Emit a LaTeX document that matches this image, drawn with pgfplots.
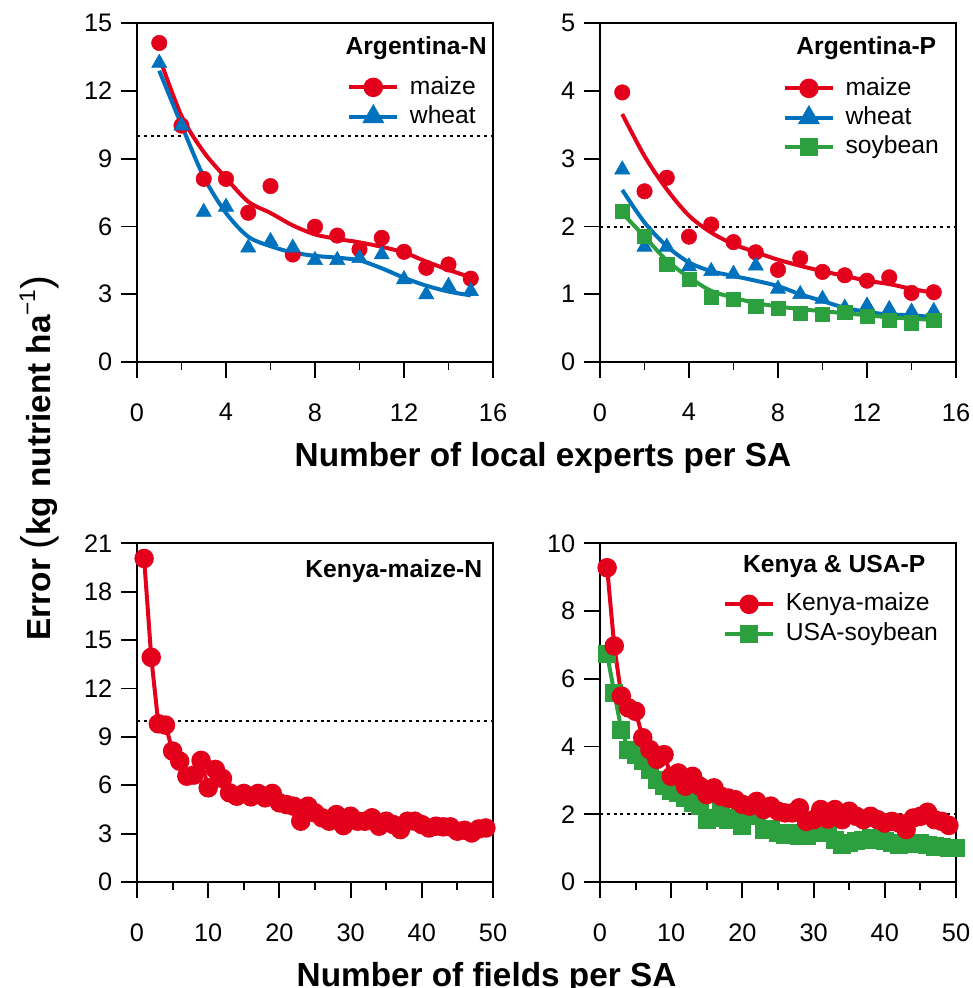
\documentclass[border=0pt]{standalone}
\usepackage{fontspec}
\setmainfont{Liberation Sans}
\usepackage{pgfplots}
\pgfplotsset{compat=1.18}

\definecolor{cred}{RGB}{227,0,27}
\definecolor{cblue}{RGB}{0,114,189}
\definecolor{cgreen}{RGB}{44,160,62}

\tikzset{ttl/.style={font=\bfseries\fontsize{18.5}{20}\selectfont}}
\pgfplotsset{
  panel/.style={
    scale only axis, width=267pt, height=254pt, anchor=south west,
    axis line style={line width=1.4pt},
    tick style={line width=1.4pt, black},
    tick align=outside, major tick length=12pt, minor tick length=6pt,
    xtick pos=left, ytick pos=left,
    ticklabel style={font=\fontsize{19}{20}\selectfont},
    xticklabel style={yshift=-15.5pt},
    yticklabel style={xshift=-3pt},
    /pgf/number format/assume math mode=true,
    legend style={draw=none, fill=none, inner sep=0pt, anchor=north west,
      font=\fontsize{18.5}{20}\selectfont,
      nodes={text height=14pt, text depth=4pt, inner ysep=2pt, inner xsep=8pt}},
    legend cell align=left,
    legend image code/.code={\draw[mark repeat=2,mark phase=2]
      plot coordinates {(0pt,0pt)(18pt,0pt)(36pt,0pt)};},
  },
  fit/.style={line width=3pt, no marks, forget plot},
  pts/.style={only marks, forget plot},
  ref/.style={black, line width=1.5pt, dash pattern=on 2.3pt off 2.8pt, no marks, forget plot},
  mz/.style={cred, mark=*, mark size=5.8pt, mark options={solid, fill=cred}},
  wh/.style={cblue, mark=triangle*, mark size=6.6pt, mark options={solid, fill=cblue}},
  sb/.style={cgreen, mark=square*, mark size=5.3pt, mark options={solid, fill=cgreen}},
}

\begin{document}
\begin{tikzpicture}
\useasboundingbox (0,0) rectangle (729.75pt,741pt);

% ---- Argentina-N
\begin{axis}[panel, at={(102.75pt,469.5pt)},
  xmin=0, xmax=16, ymin=0, ymax=15,
  xtick={0,4,8,12,16}, minor xtick={2,6,10,14}, ytick={0,3,...,15},
  legend style={at={(rel axis cs:0.59,0.855)}}]
  \addplot[ref] coordinates {(0,10) (16,10)};
  \addplot[mz, fit, smooth] coordinates {
    (1,13.5) (2,10.9) (3,9.3) (4,8.15) (5,7.1) (6,6.6) (7,6.05) (8,5.65)
    (9,5.45) (10,5.3) (11,5.1) (12,4.85) (13,4.45) (14,4.08) (15,3.75)};
  \addplot[mz, pts] coordinates {
    (1,14.13) (2,10.47) (3,8.11) (4,8.11) (5,6.61) (6,7.79) (7,4.76) (8,5.99)
    (9,5.60) (10,4.99) (11,5.50) (12,4.88) (13,4.17) (14,4.32) (15,3.69)};
  \addplot[wh, fit, smooth] coordinates {
    (1,12.9) (2,10.5) (3,8.2) (4,6.6) (5,5.55) (6,5.13) (7,4.85) (8,4.7)
    (9,4.62) (10,4.5) (11,4.15) (12,3.73) (13,3.38) (14,3.12) (15,2.95)};
  \addplot[wh, pts] coordinates {
    (1,13.24) (2,10.47) (3,6.64) (4,6.87) (5,5.06) (6,5.35) (7,5.06) (8,4.51)
    (9,4.51) (10,4.6) (11,4.76) (12,3.66) (13,2.99) (14,3.36) (15,3.14)};
  \addlegendimage{mz, line width=3pt}
  \addlegendentry{maize}
  \addlegendimage{wh, line width=3pt}
  \addlegendentry{wheat}
  \node[ttl] at (rel axis cs:0.784,0.926) {Argentina-N};
\end{axis}

% ---- Argentina-P
\begin{axis}[panel, at={(450pt,469.5pt)},
  xmin=0, xmax=16, ymin=0, ymax=5,
  xtick={0,4,8,12,16}, minor xtick={2,6,10,14}, ytick={0,1,...,5},
  legend style={at={(rel axis cs:0.513,0.852)}}]
  \addplot[ref] coordinates {(0,2) (16,2)};
  \addplot[mz, fit, smooth] coordinates {
    (1,3.66) (2,3.04) (3,2.55) (4,2.16) (5,1.91) (6,1.74) (7,1.62) (8,1.51)
    (9,1.42) (10,1.34) (11,1.27) (12,1.20) (13,1.15) (14,1.08) (15,1.02)};
  \addplot[mz, pts] coordinates {
    (1,3.98) (2,2.52) (3,2.72) (4,1.85) (5,2.03) (6,1.77) (7,1.62) (8,1.36)
    (9,1.53) (10,1.33) (11,1.28) (12,1.20) (13,1.25) (14,1.02) (15,1.03)};
  \addplot[wh, fit, smooth] coordinates {
    (1,2.54) (2,2.06) (3,1.71) (4,1.47) (5,1.34) (6,1.27) (7,1.20) (8,1.12)
    (9,1.00) (10,0.90) (11,0.80) (12,0.74) (13,0.70) (14,0.69) (15,0.66)};
  \addplot[wh, pts] coordinates {
    (1,2.84) (2,1.70) (3,1.70) (4,1.41) (5,1.34) (6,1.30) (7,1.42) (8,1.08)
    (9,1.00) (10,0.93) (11,0.80) (12,0.83) (13,0.78) (14,0.74) (15,0.75)};
  \addplot[sb, fit, smooth] coordinates {
    (1,2.2) (2,1.85) (3,1.5) (4,1.25) (5,1.05) (6,0.95) (7,0.87) (8,0.82)
    (9,0.78) (10,0.75) (11,0.72) (12,0.69) (13,0.66) (14,0.64) (15,0.62)};
  \addplot[sb, pts] coordinates {
    (1,2.22) (2,1.85) (3,1.44) (4,1.22) (5,0.96) (6,0.93) (7,0.82) (8,0.79)
    (9,0.72) (10,0.70) (11,0.73) (12,0.67) (13,0.61) (14,0.58) (15,0.62)};
  \addlegendimage{mz, line width=3pt}
  \addlegendentry{maize}
  \addlegendimage{wh, line width=3pt}
  \addlegendentry{wheat}
  \addlegendimage{sb, line width=3pt}
  \addlegendentry{soybean}
  \node[ttl] at (rel axis cs:0.748,0.926) {Argentina-P};
\end{axis}

% ---- Kenya-maize-N
\begin{axis}[panel, at={(102.75pt,79.5pt)},
  xmin=0, xmax=50, ymin=0, ymax=21,
  xtick={0,10,...,50}, minor xtick={5,15,...,45}, ytick={0,3,...,21}]
  \addplot[ref] coordinates {(0,10) (50,10)};
  \addplot[mz, line width=3pt, forget plot] coordinates {
    (1,20.06) (2,13.93) (3,9.81) (4,9.73) (5,8.12) (6,7.49) (7,6.56) (8,6.63)
    (9,7.54) (10,5.84) (11,6.98) (12,6.42) (13,5.53) (14,5.32) (15,5.49)
    (16,5.28) (17,5.49) (18,5.22) (19,5.49) (20,4.91) (21,4.80) (22,4.70)
    (23,3.77) (24,4.70) (25,4.29) (26,3.98) (27,3.77) (28,4.18) (29,3.50)
    (30,4.08) (31,3.77) (32,3.77) (33,3.98) (34,3.46) (35,3.77) (36,3.56)
    (37,3.25) (38,3.77) (39,3.77) (40,3.56) (41,3.35) (42,3.46) (43,3.42)
    (44,3.42) (45,3.15) (46,3.21) (47,3.04) (48,3.29) (49,3.35)};
  \node[ttl, anchor=east] at (rel axis cs:0.983,0.917) {Kenya-maize-N};
\end{axis}

% ---- Kenya & USA-P
\begin{axis}[panel, at={(450pt,79.5pt)},
  xmin=0, xmax=50, ymin=0, ymax=10,
  xtick={0,10,...,50}, minor xtick={5,15,...,45}, ytick={0,2,...,10},
  legend style={at={(rel axis cs:0.345,0.864)}}]
  \addplot[ref] coordinates {(0,2) (50,2)};
  \addplot[sb, line width=3pt, forget plot] coordinates {
    (1,6.72) (2,5.59) (3,4.50) (4,3.91) (5,3.76) (6,3.57) (7,3.32) (8,3.02)
    (9,2.83) (10,2.68) (11,2.63) (12,2.48) (13,2.34) (14,2.24) (15,1.84)
    (16,1.89) (17,2.19) (18,1.84) (19,1.89) (20,1.65) (21,1.99) (22,1.94)
    (23,1.55) (24,1.55) (25,1.45) (26,1.40) (27,1.45) (28,1.35) (29,1.35)
    (30,1.45) (31,1.60) (32,1.45) (33,1.25) (34,1.10) (35,1.15) (36,1.20)
    (37,1.25) (38,1.30) (39,1.25) (40,1.20) (41,1.15) (42,1.10) (43,1.15)
    (44,1.13) (45,1.15) (46,1.10) (47,1.05) (48,1.03) (49,1.00) (50,1.00)};
  \addplot[mz, line width=3pt, forget plot] coordinates {
    (1,9.28) (2,6.97) (3,5.49) (4,5.14) (5,5.04) (6,4.26) (7,3.91) (8,3.62)
    (9,3.76) (10,3.12) (11,3.22) (12,2.83) (13,3.12) (14,2.83) (15,2.58)
    (16,2.78) (17,2.53) (18,2.48) (19,2.43) (20,2.29) (21,2.24) (22,2.38)
    (23,2.14) (24,2.24) (25,2.09) (26,2.04) (27,2.04) (28,2.19) (29,1.79)
    (30,1.84) (31,2.14) (32,1.86) (33,2.14) (34,1.84) (35,2.09) (36,1.94)
    (37,1.84) (38,1.94) (39,1.84) (40,1.74) (41,1.79) (42,1.74) (43,1.55)
    (44,1.89) (45,1.94) (46,2.06) (47,1.84) (48,1.79) (49,1.67)};
  \addlegendimage{mz, line width=3pt}
  \addlegendentry{Kenya-maize}
  \addlegendimage{sb, line width=3pt}
  \addlegendentry{USA-soybean}
  \node[ttl] at (rel axis cs:0.658,0.932) {Kenya \& USA-P};
\end{axis}

% ---- shared labels
\node[rotate=90, anchor=base, font=\bfseries\fontsize{25}{30}\selectfont] at (37.5pt,397.5pt)
  {Error {\mdseries\fontsize{31}{31}\selectfont(}kg nutrient ha\raisebox{0.85ex}{\mdseries\fontsize{17}{17}\selectfont −1}{\mdseries\fontsize{31}{31}\selectfont)}};
\node[anchor=base west, font=\bfseries\fontsize{25}{30}\selectfont] at (217.5pt,390.75pt)
  {Number of local experts per SA};
\node[anchor=base west, font=\bfseries\fontsize{25}{30}\selectfont] at (219pt,1.5pt)
  {Number of fields per SA};
\end{tikzpicture}
\end{document}
